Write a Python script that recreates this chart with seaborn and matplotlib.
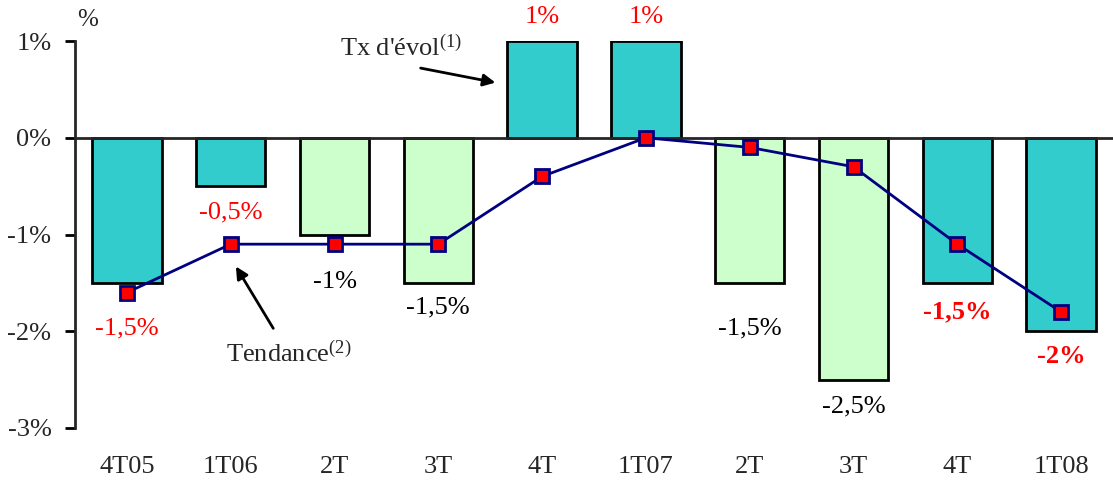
import numpy as np
import pandas as pd
import matplotlib
matplotlib.use("Agg")
import matplotlib.pyplot as plt
import seaborn as sns

# data
quarters = ["4T05", "1T06", "2T", "3T", "4T", "1T07", "2T", "3T", "4T", "1T08"]
evol = [-1.5, -0.5, -1.0, -1.5, 1.0, 1.0, -1.5, -2.5, -1.5, -2.0]
trend = [-1.6, -1.1, -1.1, -1.1, -0.4, 0.0, -0.1, -0.3, -1.1, -1.8]
bar_labels = ["-1,5%", "-0,5%", "-1%", "-1,5%", "1%", "1%", "-1,5%", "-2,5%", "-1,5%", "-2%"]
label_y = [-1.97, -0.77, -1.49, -1.75, 1.25, 1.25, -1.97, -2.78, -1.8, -2.26]
label_red = [True, True, False, False, True, True, False, False, True, True]
label_bold = [False, False, False, False, False, False, False, False, True, True]
yticks = [1, 0, -1, -2, -3]
ytick_labels = ["1%", "0%", "-1%", "-2%", "-3%"]

sns.set_style("white")
plt.rcParams["font.family"] = ["Liberation Serif", "DejaVu Serif"]
plt.rcParams["mathtext.fontset"] = "custom"
plt.rcParams["mathtext.rm"] = "Liberation Serif"
plt.rcParams["mathtext.it"] = "Liberation Serif:italic"

teal = "#33CCCC"
pale = "#CCFFCC"
colors = [teal, teal, pale, pale, teal, teal, pale, pale, teal, teal]
fs = 19

df = pd.DataFrame({"pos": np.arange(len(quarters)), "evol": evol, "trend": trend})

fig = plt.figure(figsize=(11.13, 4.8), dpi=100)
ax = fig.add_axes([75 / 1113, 52 / 480, 1 - 75 / 1113, 387 / 480])

sns.barplot(data=df, x="pos", y="evol", hue="pos", palette=colors, legend=False,
            saturation=1, width=0.67, edgecolor="black", linewidth=2, ax=ax, zorder=2)
sns.lineplot(data=df, x="pos", y="trend", color="#000080", linewidth=2,
             marker="s", markersize=10, markerfacecolor="red",
             markeredgecolor="#000080", markeredgewidth=2, ax=ax, zorder=4)

ax.set_xlim(-0.5, 9.45)
ax.set_ylim(-3, 1)
ax.set_xlabel("")
ax.set_ylabel("")

# zero axis with ticks between categories
for s in ["top", "right"]:
    ax.spines[s].set_visible(False)
ax.spines["bottom"].set_position(("data", 0))
ax.spines["bottom"].set_linewidth(2)
ax.spines["bottom"].set_zorder(3)
ax.spines["left"].set_linewidth(2)
ax.set_xticks(np.arange(len(quarters)))
ax.set_xticklabels([])
ax.tick_params(axis="x", which="major", length=0)
ax.set_xticks(np.arange(len(quarters)) + 0.5, minor=True)
ax.tick_params(axis="x", which="minor", length=6, width=2, direction="out", color="black")

ax.set_yticks(yticks)
ax.set_yticklabels(ytick_labels, fontsize=fs)
ax.tick_params(axis="y", length=7, width=2, color="black", pad=10, left=True)

sec = ax.secondary_xaxis("bottom")
sec.set_xticks(np.arange(len(quarters)))
sec.set_xticklabels(quarters, fontsize=fs)
sec.tick_params(length=0, pad=20)
sec.spines["bottom"].set_visible(False)

for i, (txt, y) in enumerate(zip(bar_labels, label_y)):
    ax.text(i, y, txt, ha="center", va="center", fontsize=fs,
            color="red" if label_red[i] else "black",
            fontweight="bold" if label_bold[i] else "normal", zorder=5)

ax.text(-0.38, 1.22, "%", fontsize=fs - 1, ha="center", va="center")

arrow = dict(arrowstyle="-|>", color="black", lw=2, mutation_scale=18, shrinkA=0, shrinkB=0)
ax.text(2.64, 0.93, r"Tx d'évol$^{(1)}$", fontsize=fs, ha="center", va="center")
ax.annotate("", xy=(3.55, 0.57), xytext=(2.83, 0.72), arrowprops=arrow)
ax.text(1.56, -2.24, r"Tendance$^{(2)}$", fontsize=fs, ha="center", va="center")
ax.annotate("", xy=(1.05, -1.33), xytext=(1.41, -1.97), arrowprops=arrow)

fig.savefig("out.png", dpi=100)
